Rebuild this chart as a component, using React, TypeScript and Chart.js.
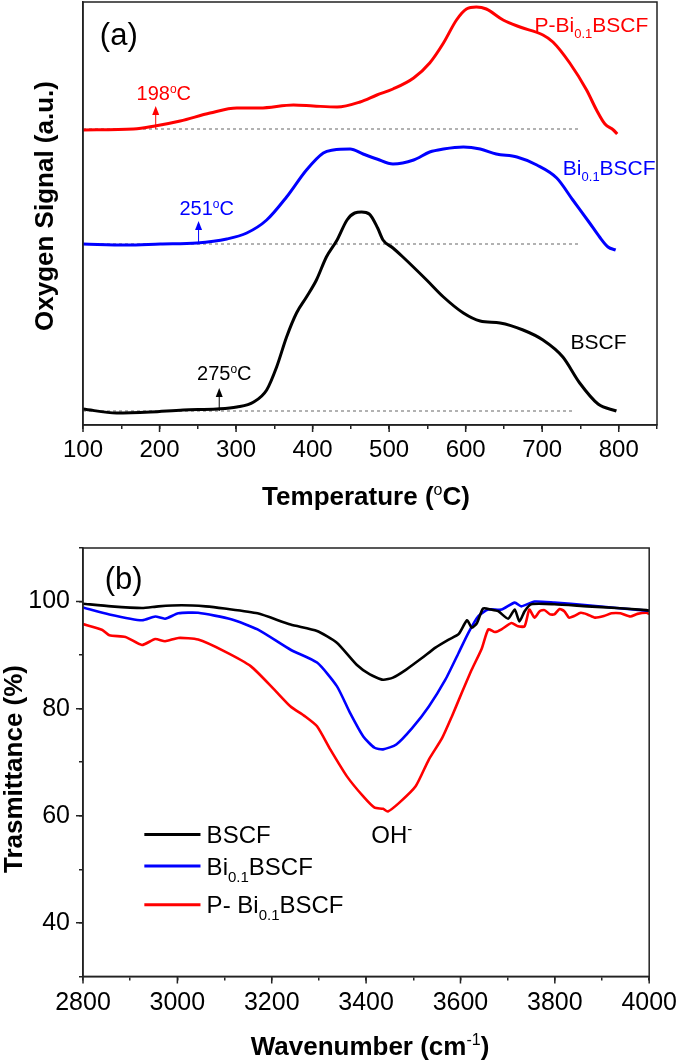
import React, { useEffect, useRef } from 'react';
import { Chart, registerables } from 'chart.js';
Chart.register(...registerables);

const FONT = '"Liberation Sans", Arial, Helvetica, sans-serif';

// ---------- (a) O2-TPD ----------
const tempBSCF = [100, 144, 188, 231, 275, 301, 323, 340, 353, 366, 379, 392, 405, 418, 432, 445, 455, 464, 474, 485, 492, 505, 518, 549, 571, 597, 619, 645, 675, 701, 727, 749, 773, 797];
const sigBSCF = [0.16, 0.12, 0.13, 0.15, 0.16, 0.18, 0.23, 0.35, 0.58, 0.88, 1.12, 1.28, 1.45, 1.68, 1.85, 2.05, 2.12, 2.13, 2.11, 1.97, 1.85, 1.77, 1.68, 1.45, 1.28, 1.12, 1.04, 1.02, 0.95, 0.85, 0.68, 0.42, 0.21, 0.14];
const tempBi = [100, 157, 201, 249, 288, 314, 340, 366, 392, 414, 427, 449, 466, 484, 505, 532, 553, 571, 597, 619, 640, 667, 693, 719, 740, 762, 775, 786, 796];
const sigBi = [1.81, 1.8, 1.81, 1.82, 1.86, 1.92, 2.05, 2.28, 2.55, 2.72, 2.75, 2.76, 2.71, 2.66, 2.61, 2.65, 2.73, 2.76, 2.78, 2.76, 2.71, 2.68, 2.6, 2.47, 2.25, 2.02, 1.88, 1.78, 1.75];
const tempPBi = [100, 166, 194, 227, 266, 301, 331, 375, 401, 432, 462, 484, 505, 532, 553, 571, 588, 601, 614, 627, 649, 671, 701, 714, 736, 758, 771, 782, 793, 798];
const sigPBi = [2.95, 2.96, 2.99, 3.04, 3.12, 3.17, 3.17, 3.2, 3.19, 3.18, 3.23, 3.3, 3.36, 3.47, 3.62, 3.82, 4.05, 4.16, 4.18, 4.16, 4.05, 3.98, 3.9, 3.83, 3.62, 3.35, 3.15, 3.01, 2.95, 2.91];
const baselineLevels = [0.14, 1.81, 2.96]; // BSCF, Bi0.1BSCF, P-Bi0.1BSCF
const baselineEnds = [740, 749, 747];
const onsetTemps = [278, 251, 195];
const onsetLabels = ['275', '251', '198'];
const tempTicks = [100, 200, 300, 400, 500, 600, 700, 800];

// ---------- (b) FTIR ----------
const wnBSCF = [2800, 2860, 2925, 2960, 3009, 3060, 3100, 3170, 3240, 3296, 3338, 3380, 3408, 3436, 3457, 3485, 3519, 3547, 3575, 3596, 3614, 3624, 3635, 3648, 3665, 3680, 3701, 3715, 3725, 3736, 3750, 3799, 3869, 3930, 3994, 4000];
const trBSCF = [99.6, 99.1, 98.8, 99.1, 99.3, 99.1, 98.7, 97.8, 95.7, 94.5, 92.3, 88.2, 86.4, 85.4, 85.8, 87.3, 89.5, 91.4, 92.9, 93.9, 96.5, 95.1, 96.0, 98.7, 98.5, 98.2, 96.8, 98.5, 96.3, 98.2, 99.5, 99.5, 99.1, 98.8, 98.4, 98.3];
const wnBi = [2800, 2856, 2925, 2953, 2974, 3002, 3044, 3114, 3170, 3240, 3296, 3338, 3366, 3394, 3418, 3436, 3464, 3498, 3533, 3568, 3596, 3617, 3638, 3659, 3687, 3715, 3729, 3757, 3799, 3869, 3994, 4000];
const trBi = [98.9, 97.6, 96.5, 97.2, 96.8, 97.8, 97.9, 96.7, 94.8, 91.0, 88.6, 84.2, 79.2, 74.8, 72.7, 72.4, 73.3, 76.4, 80.4, 85.4, 90.4, 94.2, 97.3, 98.5, 98.5, 99.8, 99.1, 100.0, 99.8, 99.3, 98.3, 98.3];
const wnPBi = [2800, 2841, 2856, 2890, 2925, 2953, 2974, 3002, 3044, 3100, 3156, 3205, 3240, 3270, 3296, 3324, 3359, 3394, 3418, 3436, 3446, 3470, 3505, 3533, 3561, 3582, 3603, 3624, 3645, 3659, 3673, 3687, 3708, 3722, 3736, 3746, 3757, 3768, 3778, 3790, 3799, 3810, 3820, 3830, 3841, 3855, 3869, 3885, 3904, 3920, 3939, 3960, 3975, 3994, 4000];
const trPBi = [95.8, 94.7, 93.7, 93.4, 91.9, 93.0, 92.6, 93.2, 92.9, 90.7, 87.9, 83.6, 80.4, 78.6, 76.7, 72.4, 67.4, 63.6, 61.5, 61.3, 60.8, 62.4, 65.5, 70.5, 74.5, 78.6, 83.0, 87.3, 91.2, 94.8, 94.3, 94.8, 96.0, 95.4, 95.4, 98.5, 97.0, 98.2, 98.4, 97.6, 97.6, 98.6, 98.2, 97.0, 97.3, 97.9, 97.6, 97.0, 97.3, 97.8, 97.8, 97.2, 97.7, 97.9, 97.7];
const trTicks = [40, 60, 80, 100];
const wnTicks = [2800, 3000, 3200, 3400, 3600, 3800, 4000];
const seriesColors = ['#000000', '#0000ff', '#ff0000'];

type Part = [string, number]; // 0 normal, 1 subscript, 2 superscript

function drawRich(
  ctx: CanvasRenderingContext2D,
  parts: Part[],
  x: number,
  y: number,
  size: number,
  color: string,
  align: 'left' | 'center' = 'left',
  weight = 'normal',
  rotate = false,
) {
  ctx.save();
  ctx.fillStyle = color;
  ctx.textBaseline = 'alphabetic';
  ctx.textAlign = 'left';
  const segs = parts.map(([t, m]) => {
    const s = m === 0 ? size : Math.round(size * 0.62);
    const f = `${m === 0 ? weight : 'normal'} ${s}px ${FONT}`;
    ctx.font = f;
    return { t, m, f, w: ctx.measureText(t).width };
  });
  const total = segs.reduce((a, b) => a + b.w, 0);
  if (rotate) {
    ctx.translate(x, y);
    ctx.rotate(-Math.PI / 2);
    x = 0;
    y = 0;
  }
  let cx = align === 'center' ? x - total / 2 : x;
  const base = y + size * 0.36;
  for (const g of segs) {
    ctx.font = g.f;
    const dy = g.m === 1 ? size * 0.3 : g.m === 2 ? -size * 0.38 : 0;
    ctx.fillText(g.t, cx, base + dy);
    cx += g.w;
  }
  ctx.restore();
}

function frame(chart: any) {
  const { ctx, chartArea: a } = chart;
  ctx.save();
  ctx.strokeStyle = '#222';
  ctx.lineWidth = 1.5;
  ctx.strokeRect(a.left, a.top, a.right - a.left, a.bottom - a.top);
  ctx.restore();
}

function majorTicks(chart: any, xVals: number[], yVals: number[]) {
  const { ctx, chartArea: a } = chart;
  const xs = chart.scales.x;
  const ys = chart.scales.y;
  ctx.save();
  ctx.strokeStyle = '#222';
  ctx.lineWidth = 1.5;
  ctx.beginPath();
  xVals.forEach((v) => {
    const px = xs.getPixelForValue(v);
    ctx.moveTo(px, a.bottom);
    ctx.lineTo(px, a.bottom + 7);
  });
  yVals.forEach((v) => {
    const py = ys.getPixelForValue(v);
    ctx.moveTo(a.left, py);
    ctx.lineTo(a.left - 7, py);
  });
  ctx.stroke();
  ctx.restore();
}

const zip = (xs: number[], ys: number[]) => xs.map((x, i) => ({ x, y: ys[i] }));

const tprPlugin = {
  id: 'tprDecor',
  afterDraw(chart: any) {
    const { ctx } = chart;
    const xs = chart.scales.x;
    const ys = chart.scales.y;
    frame(chart);
    majorTicks(chart, tempTicks, []);
    // onset arrows
    onsetTemps.forEach((t, i) => {
      const px = xs.getPixelForValue(t);
      const y0 = ys.getPixelForValue(baselineLevels[i]);
      const y1 = y0 - 23;
      ctx.save();
      ctx.strokeStyle = seriesColors[i];
      ctx.fillStyle = seriesColors[i];
      ctx.lineWidth = 1;
      ctx.beginPath();
      ctx.moveTo(px, y0);
      ctx.lineTo(px, y1 + 8);
      ctx.stroke();
      ctx.beginPath();
      ctx.moveTo(px, y1);
      ctx.lineTo(px - 3.5, y1 + 9);
      ctx.lineTo(px + 3.5, y1 + 9);
      ctx.closePath();
      ctx.fill();
      ctx.restore();
    });
    const P = (t: number, v: number) => [xs.getPixelForValue(t), ys.getPixelForValue(v)];
    let p = P(122, 3.91);
    drawRich(ctx, [['(a)', 0]], p[0], p[1], 31, '#000');
    const onsetPos = [[249, 0.52], [226, 2.17], [170, 3.32]];
    onsetPos.forEach((q, i) => {
      const pp = P(q[0], q[1]);
      drawRich(ctx, [[onsetLabels[i], 0], ['o', 2], ['C', 0]], pp[0], pp[1], 20, seriesColors[i]);
    });
    p = P(690, 4.01);
    drawRich(ctx, [['P-Bi', 0], ['0.1', 1], ['BSCF', 0]], p[0], p[1], 21, '#ff0000');
    p = P(727, 2.58);
    drawRich(ctx, [['Bi', 0], ['0.1', 1], ['BSCF', 0]], p[0], p[1], 21, '#0000ff');
    p = P(737, 0.84);
    drawRich(ctx, [['BSCF', 0]], p[0], p[1], 21, '#000');
    // axis titles
    drawRich(ctx, [['Oxygen Signal (a.u.)', 0]], 44, 206, 26, '#000', 'center', 'bold', true);
    drawRich(ctx, [['Temperature (', 0], ['o', 2], ['C)', 0]], 366, 496, 26, '#000', 'center', 'bold');
  },
};

const irPlugin = {
  id: 'irDecor',
  afterDraw(chart: any) {
    const { ctx } = chart;
    const xs = chart.scales.x;
    const ys = chart.scales.y;
    frame(chart);
    majorTicks(chart, wnTicks, trTicks);
    const P = (t: number, v: number) => [xs.getPixelForValue(t), ys.getPixelForValue(v)];
    let p = P(2846, 104.5);
    drawRich(ctx, [['(b)', 0]], p[0], p[1], 31, '#000');
    p = P(3411, 56.5);
    drawRich(ctx, [['OH', 0], ['-', 2]], p[0], p[1], 24, '#000');
    const rows = [56.5, 50.6, 43.4];
    const labels: Part[][] = [
      [['BSCF', 0]],
      [['Bi', 0], ['0.1', 1], ['BSCF', 0]],
      [['P- Bi', 0], ['0.1', 1], ['BSCF', 0]],
    ];
    rows.forEach((r, i) => {
      const a = P(2930, r);
      const b = P(3049, r);
      ctx.save();
      ctx.strokeStyle = seriesColors[i];
      ctx.lineWidth = 3;
      ctx.beginPath();
      ctx.moveTo(a[0], a[1]);
      ctx.lineTo(b[0], b[1]);
      ctx.stroke();
      ctx.restore();
      const t = P(3062, r);
      drawRich(ctx, labels[i], t[0], t[1], 24, '#000');
    });
    drawRich(ctx, [['Trasmittance (%)', 0]], 13, 249, 26, '#000', 'center', 'bold', true);
    drawRich(ctx, [['Wavenumber (cm', 0], ['-1', 2], [')', 0]], 370, 526, 26, '#000', 'center', 'bold');
  },
};

function TprChart() {
  const ref = useRef<HTMLCanvasElement | null>(null);
  useEffect(() => {
    if (!ref.current) return;
    const curve = (xs: number[], ys: number[], c: string) => ({
      data: zip(xs, ys),
      showLine: true,
      borderColor: c,
      borderWidth: 3,
      pointRadius: 0,
      cubicInterpolationMode: 'monotone' as const,
      fill: false,
    });
    const base = (lvl: number, end: number) => ({
      data: [{ x: 100, y: lvl }, { x: end, y: lvl }],
      showLine: true,
      borderColor: '#666',
      borderWidth: 1,
      borderDash: [3, 3],
      pointRadius: 0,
      fill: false,
    });
    const chart = new Chart(ref.current, {
      type: 'scatter',
      data: {
        datasets: [
          curve(tempPBi, sigPBi, '#ff0000'),
          curve(tempBi, sigBi, '#0000ff'),
          curve(tempBSCF, sigBSCF, '#000000'),
          ...baselineLevels.map((l, i) => base(l, baselineEnds[i])),
        ] as any,
      },
      options: {
        animation: false,
        responsive: false,
        events: [],
        layout: { padding: { top: 2, right: 28, left: 0, bottom: 0 } },
        plugins: { legend: { display: false }, tooltip: { enabled: false } },
        scales: {
          x: {
            type: 'linear',
            min: 100,
            max: 850,
            afterFit: (s: any) => { s.height = 95; },
            afterBuildTicks: (s: any) => {
              const t = [];
              for (let v = 100; v <= 850; v += 50) t.push({ value: v });
              s.ticks = t;
            },
            ticks: {
              autoSkip: false,
              maxRotation: 0,
              padding: 7,
              color: '#000',
              font: { size: 24, family: FONT },
              callback: (v: any) => (tempTicks.includes(Number(v)) ? String(v) : ''),
            },
            grid: { drawOnChartArea: false, drawTicks: true, tickLength: 4, color: '#222', lineWidth: 1.5 },
            border: { display: true, color: '#222', width: 1.5 },
          },
          y: {
            type: 'linear',
            min: 0,
            max: 4.23,
            afterFit: (s: any) => { s.width = 83; },
            ticks: { display: false },
            grid: { drawOnChartArea: false, drawTicks: false },
            border: { display: true, color: '#222', width: 1.5 },
          },
        },
      } as any,
      plugins: [tprPlugin],
    });
    return () => chart.destroy();
  }, []);
  return <canvas ref={ref} width={685} height={520} style={{ display: 'block', width: 685, height: 520 }} />;
}

function IrChart() {
  const ref = useRef<HTMLCanvasElement | null>(null);
  useEffect(() => {
    if (!ref.current) return;
    const curve = (xs: number[], ys: number[], c: string) => ({
      data: zip(xs, ys),
      showLine: true,
      borderColor: c,
      borderWidth: 2.6,
      pointRadius: 0,
      tension: 0.2,
      fill: false,
    });
    const chart = new Chart(ref.current, {
      type: 'scatter',
      data: {
        datasets: [
          curve(wnBSCF, trBSCF, seriesColors[0]),
          curve(wnBi, trBi, seriesColors[1]),
          curve(wnPBi, trPBi, seriesColors[2]),
        ] as any,
      },
      options: {
        animation: false,
        responsive: false,
        events: [],
        layout: { padding: { top: 28, right: 29.5, left: 0, bottom: 0 } },
        plugins: { legend: { display: false }, tooltip: { enabled: false } },
        scales: {
          x: {
            type: 'linear',
            min: 2800,
            max: 4000,
            afterFit: (s: any) => { s.height = 86.6; },
            afterBuildTicks: (s: any) => {
              const t = [];
              for (let v = 2800; v <= 4000; v += 100) t.push({ value: v });
              s.ticks = t;
            },
            ticks: {
              autoSkip: false,
              maxRotation: 0,
              padding: 8,
              color: '#000',
              font: { size: 25, family: FONT },
              callback: (v: any) => (wnTicks.includes(Number(v)) ? String(v) : ''),
            },
            grid: { drawOnChartArea: false, drawTicks: true, tickLength: 4, color: '#222', lineWidth: 1.5 },
            border: { display: true, color: '#222', width: 1.5 },
          },
          y: {
            type: 'linear',
            min: 30,
            max: 110,
            afterFit: (s: any) => { s.width = 83; },
            afterBuildTicks: (s: any) => {
              const t = [];
              for (let v = 30; v <= 110; v += 10) t.push({ value: v });
              s.ticks = t;
            },
            ticks: {
              autoSkip: false,
              padding: 9,
              color: '#000',
              font: { size: 25, family: FONT },
              callback: (v: any) => (trTicks.includes(Number(v)) ? String(v) : ''),
            },
            grid: { drawOnChartArea: false, drawTicks: true, tickLength: 4, color: '#222', lineWidth: 1.5 },
            border: { display: true, color: '#222', width: 1.5 },
          },
        },
      } as any,
      plugins: [irPlugin],
    });
    return () => chart.destroy();
  }, []);
  return <canvas ref={ref} width={685} height={543} style={{ display: 'block', width: 685, height: 543 }} />;
}

export default function App() {
  return (
    <div style={{ position: 'absolute', left: 0, top: 0, width: 685, height: 1063, background: '#fff' }}>
      <TprChart />
      <IrChart />
    </div>
  );
}
